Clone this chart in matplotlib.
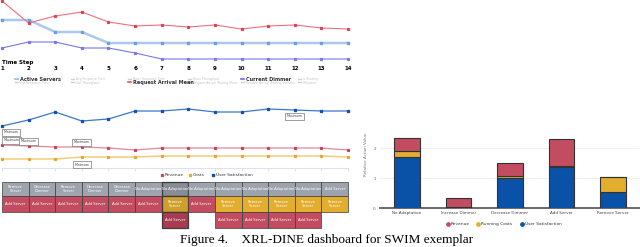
import matplotlib.pyplot as plt
import numpy as np

# ---- data ----
steps = np.arange(1, 15)
step_ticks = [str(s) for s in steps]

# top chart (normalised monitor values)
request_arrival_mean = [59, 37, 44, 48, 38, 34, 35, 33, 35, 31, 34, 35, 32, 31]
active_servers = [40, 40, 28, 28, 17, 17, 17, 17, 17, 17, 17, 17, 17, 17]
current_dimmer = [12, 18, 18, 12, 12, 7, 1, 1, 1, 1, 1, 1, 1, 1]

top_legend_names = ["Active Servers", "Avg Response Time", "Basic Response Time",
                    "Basic Throughput", "Current Dimmer", "Is Booting",
                    "Opt Response Time", "Opt Throughput", "Request Arrival Mean",
                    "Request Arrival Waiting Mean", "Request Arrival Waiting Variance",
                    "Utilization"]
top_legend_active = {"Active Servers": "#8fb8ec", "Current Dimmer": "#6a6ae6",
                     "Request Arrival Mean": "#e8505e"}

# middle chart (reward components)
user_satisfaction = [2.1, 2.4, 2.8, 2.35, 2.45, 2.85, 2.85, 2.95, 2.8, 2.8, 2.95, 2.9, 2.85, 2.85]
revenue = [1.15, 1.1, 1.05, 1.05, 1.0, 0.9, 1.0, 1.0, 1.0, 1.0, 1.0, 1.0, 1.0, 0.9]
costs = [0.45, 0.45, 0.45, 0.55, 0.55, 0.55, 0.6, 0.6, 0.6, 0.6, 0.6, 0.6, 0.6, 0.55]
notes = [(1, "us", "Minimum"), (1, "rev", "Maximum"), (2, "rev", "Maximum"),
         (4, "rev", "Maximum"), (4, "cost", "Minimum"), (12, "us", "Maximum")]

# action table (rows of ranked actions per interval)
row1 = ["Remove\nServer", "Decrease\nDimmer", "Remove\nServer", "Decrease\nDimmer",
        "Decrease\nDimmer", "No Adaptation", "No Adaptation", "No Adaptation",
        "No Adaptation", "No Adaptation", "No Adaptation", "No Adaptation", "Add Server"]
row2 = ["Add Server"] * 6 + ["Remove\nServer", "Add Server"] + ["Remove\nServer"] * 5
row3 = [None] * 6 + ["Add Server", None] + ["Add Server"] * 4 + [None]
selected_col = 6

# bar chart
actions = ["No Adaptation", "Increase Dimmer", "Decrease Dimmer", "Add Server", "Remove Server"]
bar_us = [1.7, 0.0, 1.0, 1.37, 0.53]
bar_costs = [0.2, 0.05, 0.07, 0.03, 0.5]
bar_rev = [0.43, 0.27, 0.42, 0.9, 0.0]

RED = "#c24d60"
YEL = "#e3ad2e"
BLUE = "#0a52a8"

fig = plt.figure(figsize=(6.4, 2.47), dpi=100)


def px_ax(x0, y0, x1, y1):
    return fig.add_axes([x0 / 640, 1 - y1 / 247, (x1 - x0) / 640, (y1 - y0) / 247])


ov = fig.add_axes([0, 0, 1, 1])
ov.set_xlim(0, 640)
ov.set_ylim(247, 0)
ov.axis("off")

# ---- top chart ----
ax = px_ax(2, 0, 348, 60)
ax.plot(steps, active_servers, color="#a9c9f0", lw=1.8, marker="s", ms=1.5,
        mfc="#6e9ee0", mec="#6e9ee0", clip_on=False)
ax.plot(steps, current_dimmer, color="#7878ea", lw=0.8, marker="s", ms=1.3, clip_on=False)
ax.plot(steps, request_arrival_mean, color="#ee7080", lw=0.8, marker="s", ms=1.3,
        mfc="#e0404e", mec="#e0404e", clip_on=False)
ax.set_xlim(1, 14)
ax.set_ylim(0, 60)
ax.set_xticks(steps)
ax.set_xticklabels(step_ticks, fontsize=4, fontweight="bold")
ax.tick_params(axis="x", length=0, pad=4.5)
ax.set_yticks([])
for s in ax.spines.values():
    s.set_visible(False)
ov.text(2, 62, "Time Step", fontsize=4, fontweight="bold", va="center", ha="left")

leg_x = [17, 73, 130, 190, 243, 300]
for i, name in enumerate(top_legend_names):
    x = leg_x[i % 6]
    y = 79 if i < 6 else 82.5
    if name in top_legend_active:
        c = top_legend_active[name]
        ov.plot([x - 2, x + 1], [y, y], color=c, lw=1.2)
        ov.text(x + 3, y, name, fontsize=3.6, fontweight="bold", color="#333",
                va="center")
    else:
        ov.plot([x - 2, x + 1], [y, y], color="#cfcfcf", lw=1.0)
        ov.text(x + 3, y, name, fontsize=2.2, color="#c4c4c4", va="center")

# ---- middle chart ----
am = px_ax(2, 100, 348, 168)
series = {"us": user_satisfaction, "rev": revenue, "cost": costs}
am.plot(steps, user_satisfaction, color="#3a78c8", lw=0.9, marker="s", ms=1.4,
        mfc="#1050b0", mec="#1050b0", clip_on=False)
am.plot(steps, revenue, color="#e08898", lw=0.9, marker="s", ms=1.3,
        mfc="#c84058", mec="#c84058", clip_on=False)
am.plot(steps, costs, color="#f2cc78", lw=1.1, marker="s", ms=1.3,
        mfc="#e0a830", mec="#e0a830", clip_on=False)
am.set_xlim(1, 14)
am.set_ylim(0, 3.4)
am.set_xticks(steps)
am.set_xticklabels([])
am.set_yticks([])
am.tick_params(axis="x", length=2, color="#dde0f0")
for k, s in am.spines.items():
    s.set_visible(k == "bottom")
am.spines["bottom"].set_color("#dde0f0")
for st, key, txt in notes:
    v = series[key][st - 1]
    above = key == "rev"
    dy = 3.5 if above else -4.5
    if key == "cost":
        dy = -5.5
    am.annotate(txt, xy=(st, v), xytext=(0 if st > 1 else 1, dy), textcoords="offset points",
                fontsize=2.3, color="#444", ha="center" if st > 1 else "left",
                va="center",
                bbox=dict(boxstyle="square,pad=0.5", fc="white", ec="#777", lw=0.5),
                annotation_clip=False)

for x, c, name in [(162, RED, "Revenue"), (190, YEL, "Costs"), (213, BLUE, "User Satisfaction")]:
    ov.plot(x, 175, marker="s", ms=1.5, color=c)
    ov.text(x + 2.5, 175, name, fontsize=3.2, color="#333", va="center")

# ---- action table ----
at = px_ax(2, 182, 348, 228)
at.set_xlim(1, 14)
row_edges = [0, 14, 30, 46]
at.set_ylim(46, 0)
at.axis("off")
for r, row in enumerate([row1, row2, row3]):
    for i, txt in enumerate(row):
        if txt is None:
            continue
        if r == 0:
            fc = "#878c96" if i == selected_col else "#9ea4ae"
        elif "Remove" in txt:
            fc = "#cf9f2e" if i == selected_col else YEL
        else:
            fc = "#a83b50" if i == selected_col else RED
        y0 = row_edges[r]
        h = row_edges[r + 1] - y0
        at.add_patch(plt.Rectangle((i + 1, y0), 1, h, fc=fc, ec="#3c3c3c",
                                   lw=0.9 if i == selected_col else 0.5, clip_on=False))
        at.text(i + 1.5, y0 + h / 2, txt, fontsize=2.6, color="white", ha="center",
                va="center", linespacing=1.2)

# ---- bar chart ----
ab = px_ax(380, 100, 639, 208)
xb = np.arange(len(actions))
edge = dict(edgecolor="#333", linewidth=0.8, width=0.5)
ab.bar(xb, bar_us, color=BLUE, **edge, zorder=3)
ab.bar(xb, bar_costs, bottom=bar_us, color=YEL, **edge, zorder=3)
ab.bar(xb, bar_rev, bottom=np.array(bar_us) + np.array(bar_costs), color=RED, **edge, zorder=3)
ab.set_xlim(-0.524, 4.505)
ab.set_ylim(0, 3.6)
ab.set_yticks([0, 1, 2])
ab.set_xticks(xb)
ab.set_xticklabels(actions, fontsize=3, color="#444")
ab.tick_params(axis="y", length=0, labelsize=3, labelcolor="#666", pad=3)
ab.tick_params(axis="x", length=0, pad=2)
ab.grid(axis="y", color="#ececec", lw=0.6, zorder=0)
for k, s in ab.spines.items():
    s.set_visible(k == "bottom")
ab.spines["bottom"].set_color("#6a6a6a")
ab.spines["bottom"].set_linewidth(1.4)
ab.set_ylabel("Relative Action Value", fontsize=3, color="#777", labelpad=4)

for x, c, name in [(448, RED, "Revenue"), (478, YEL, "Running Costs"), (522, BLUE, "User Satisfaction")]:
    ov.plot(x, 224, marker="o", ms=2.4, color=c)
    ov.text(x + 3, 224, name, fontsize=3.2, color="#333", va="center")

# ---- caption ----
ov.text(327, 240, "Figure 4.    XRL-DINE dashboard for SWIM exemplar",
        family="Liberation Serif", fontsize=9.5, ha="center", va="center")

fig.savefig("out.png", dpi=100)
